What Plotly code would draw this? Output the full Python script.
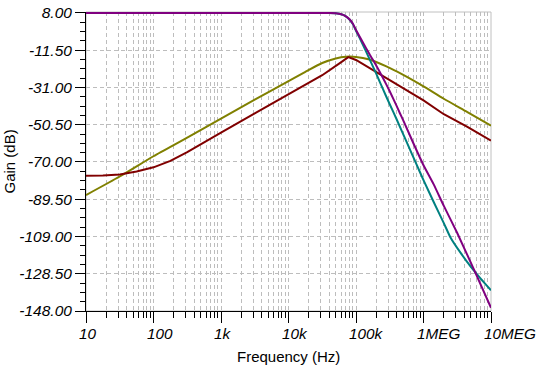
import math
import plotly.graph_objects as go

# ---- data ----
olive_freq = [10, 31.6, 100, 316, 1000, 3160, 10000, 17800, 31600, 50100, 70800, 100000,
              158000, 282000, 501000, 1000000, 2000000, 4470000, 10000000]
olive_gain = [-87.3, -77.6, -67.0, -57.3, -47.3, -37.4, -27.7, -22.8, -18.2, -15.8, -14.9, -15.0,
              -16.4, -20.0, -24.4, -30.4, -36.9, -43.9, -51.0]

darkred_freq = [10, 17.8, 31.6, 56.2, 100, 178, 316, 562, 1000, 3160, 10000, 31600, 56200,
                76900, 100000, 158000, 282000, 501000, 1000000, 2000000, 4470000, 10000000]
darkred_gain = [-77.2, -77.1, -76.5, -75.0, -72.8, -69.4, -64.9, -59.7, -54.6, -44.6, -34.6, -24.6,
                -18.5, -15.1, -16.6, -20.8, -26.4, -31.6, -37.8, -45.0, -51.6, -58.8]

teal_freq = [10, 1000, 31600, 39800, 50100, 56200, 63100, 70800, 79400, 89100, 100000, 126000,
             158000, 200000, 251000, 316000, 398000, 562000, 794000, 1000000, 1410000, 2000000,
             2510000, 3550000, 5010000, 7080000, 10000000]
teal_gain = [8.0, 8.0, 8.0, 8.0, 7.9, 7.6, 7.1, 6.2, 4.7, 2.3, -1.3, -8.5,
             -16.0, -23.9, -31.9, -39.8, -47.5, -59.5, -71.5, -79.5, -90.8, -102.0,
             -109.5, -117.6, -124.8, -131.2, -137.2]

purple_freq = [10, 1000, 31600, 39800, 50100, 56200, 63100, 70800, 79400, 89100, 100000, 126000,
               158000, 200000, 251000, 316000, 398000, 447000, 501000, 708000, 1000000, 1410000,
               2000000, 3160000, 5620000, 10000000]
purple_gain = [8.0, 8.0, 8.0, 8.0, 7.9, 7.6, 7.1, 6.2, 4.8, 2.6, -0.9, -7.3,
               -13.5, -19.6, -26.0, -33.0, -40.5, -44.5, -48.2, -60.2, -71.7, -81.6,
               -93.0, -107.2, -126.5, -146.3]

x_tick_vals = [10, 100, 1000, 10000, 100000, 1000000, 10000000]
x_tick_text = ["10", "100", "1k", "10k", "100k", "1MEG", "10MEG"]
y_tick_vals = [8, -11.5, -31, -50.5, -70, -89.5, -109, -128.5, -148]
y_tick_text = ["8.00", "-11.50", "-31.00", "-50.50", "-70.00", "-89.50", "-109.00", "-128.50", "-148.00"]

# minor log positions (2..9 in each decade)
x_minor_vals = [m * 10 ** d for d in range(1, 7) for m in range(2, 10)]

GRID = "#bdbdbd"
FONT = "Liberation Sans"

fig = go.Figure()
fig.add_trace(go.Scatter(x=olive_freq, y=olive_gain, mode="lines",
                         line=dict(color="#808000", width=2, shape="spline", smoothing=0.6)))
fig.add_trace(go.Scatter(x=darkred_freq, y=darkred_gain, mode="lines",
                         line=dict(color="#800000", width=2)))
fig.add_trace(go.Scatter(x=teal_freq, y=teal_gain, mode="lines",
                         line=dict(color="#008080", width=2, shape="spline", smoothing=0.5)))
fig.add_trace(go.Scatter(x=purple_freq, y=purple_gain, mode="lines",
                         line=dict(color="#800080", width=2, shape="spline", smoothing=0.5)))

# x tick labels: left-aligned just before each tick (as in the reference)
x_label_annotations = [
    dict(text="<i>%s</i>" % t, xref="x", yref="paper", x=math.log10(v), y=0,
         xanchor="left", yanchor="middle", xshift=-8, yshift=-22, showarrow=False,
         borderpad=0, font=dict(family=FONT, size=15.3, color="black"))
    for v, t in zip(x_tick_vals, x_tick_text)
]

fig.update_layout(
    template="none",
    width=537, height=366,
    margin=dict(l=86, r=46, t=12, b=55, autoexpand=False),
    paper_bgcolor="white", plot_bgcolor="white",
    showlegend=False,
    font=dict(family=FONT, color="black", size=15),
    shapes=[dict(type="rect", xref="paper", yref="paper", x0=0, x1=1, y0=0, y1=1,
                 line=dict(color="#c0c0c0", width=1), layer="below")],
    annotations=[
        dict(text="Gain (dB)", xref="paper", yref="paper", x=0, y=0.5, xanchor="center",
             yanchor="middle", xshift=-77, textangle=-90, showarrow=False,
             font=dict(family=FONT, size=15, color="black")),
        dict(text="Frequency (Hz)", xref="paper", yref="paper", x=0.5, y=0, xanchor="center",
             yanchor="middle", yshift=-45, showarrow=False,
             font=dict(family=FONT, size=15, color="black")),
    ] + x_label_annotations,
)

fig.update_xaxes(
    type="log", range=[1, 7], automargin=False,
    tickmode="array", tickvals=x_tick_vals, ticktext=x_tick_text, showticklabels=False,
    ticks="outside", ticklen=11, tickcolor="black", tickwidth=1,
    showline=True, linecolor="black", linewidth=1,
    showgrid=True, gridcolor=GRID, gridwidth=1, griddash="4px,3px",
    zeroline=False,
    minor=dict(tickmode="array", tickvals=x_minor_vals, ticks="outside", ticklen=6,
               tickcolor="black", tickwidth=1, showgrid=True, gridcolor=GRID,
               gridwidth=1, griddash="4px,3px"),
)

fig.update_yaxes(
    range=[-148, 8.5], automargin=False,
    tickmode="array", tickvals=y_tick_vals,
    ticktext=["<i>%s</i>" % t for t in y_tick_text],
    ticks="outside", ticklen=10, tickcolor="black", tickwidth=1,
    tickfont=dict(family=FONT, size=15.5, color="black"),
    showline=True, linecolor="black", linewidth=1,
    showgrid=True, gridcolor=GRID, gridwidth=1, griddash="4px,3px",
    zeroline=False,
    minor=dict(tickmode="linear", tick0=8, dtick=4.875, ticks="outside", ticklen=5,
               tickcolor="black", tickwidth=1, showgrid=False),
)

fig.write_html("out.html", config={"displayModeBar": False},
               post_script="document.body.style.margin='0';document.body.style.overflow='hidden';")
